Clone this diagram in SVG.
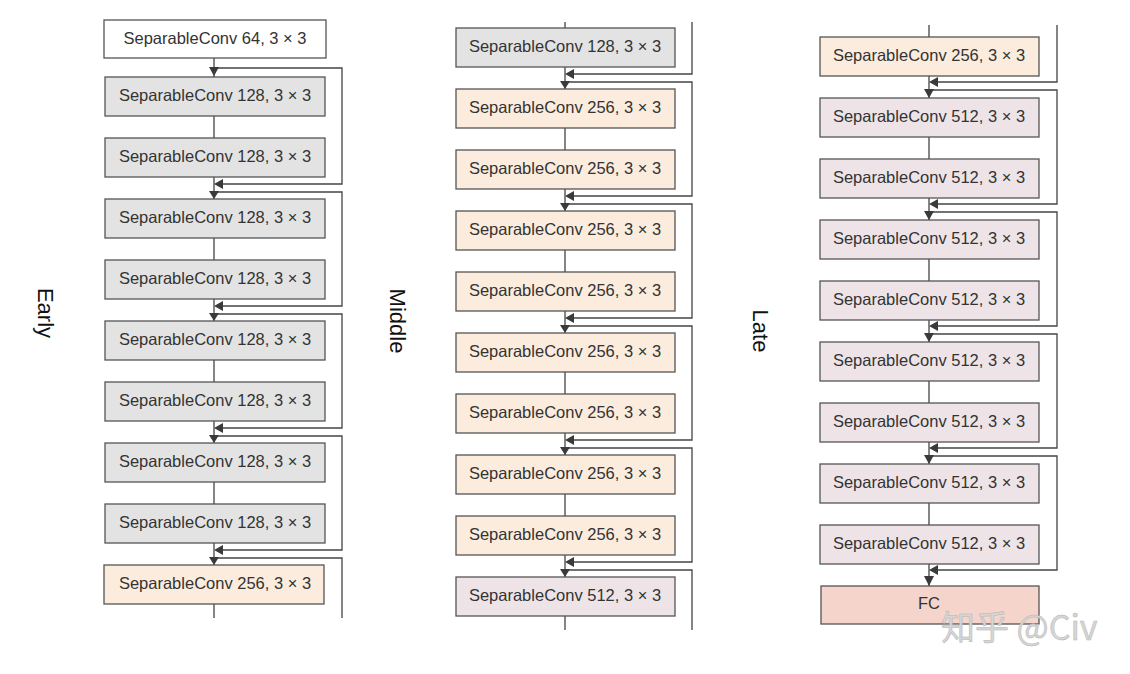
<svg xmlns="http://www.w3.org/2000/svg" width="1130" height="674" viewBox="0 0 1130 674">
<style>
.bx{stroke:#555;stroke-width:1.3}
.w{fill:#ffffff}
.g{fill:#e3e3e3}
.p{fill:#fcecdd}
.l{fill:#eee4e8}
.fc{fill:#f5d4cb}
.t{font-family:"Liberation Sans",Arial,sans-serif;font-size:16.5px;fill:#333;text-anchor:middle;dominant-baseline:central}
.lb{font-family:"Liberation Sans",Arial,sans-serif;font-size:22px;fill:#111;text-anchor:middle}
.ln{fill:none;stroke:#444;stroke-width:1.3}
.ah{fill:#3a3a3a}
.wm{font-family:"Noto Sans CJK SC",sans-serif;font-size:34px;fill:#d6d6d6;stroke:#b5b5b5;stroke-width:0.5}
</style>
<rect width="1130" height="674" fill="#fff"/>

<g id="connectors">
  <!-- Early -->
  <path class="ln" d="M214,58 V618"/>
  <path class="ln" d="M214,68 H342 V184 H222"/>
  <path class="ln" d="M214,192 H342 V306 H222"/>
  <path class="ln" d="M214,314 H342 V428 H222"/>
  <path class="ln" d="M214,436 H342 V550 H222"/>
  <path class="ln" d="M214,558 H342 V618"/>
  <g class="ah">
    <path d="M209,67 H219 L214,76 Z"/>
    <path d="M209,191 H219 L214,199 Z"/>
    <path d="M209,313 H219 L214,321 Z"/>
    <path d="M209,435 H219 L214,443 Z"/>
    <path d="M209,557 H219 L214,565 Z"/>
    <path d="M214,184 L223,179 V189 Z"/>
    <path d="M214,306 L223,301 V311 Z"/>
    <path d="M214,428 L223,423 V433 Z"/>
    <path d="M214,550 L223,545 V555 Z"/>
  </g>
  <!-- Middle -->
  <path class="ln" d="M565,22 V630"/>
  <path class="ln" d="M692,22 V74 H573"/>
  <path class="ln" d="M565,82 H692 V196 H573"/>
  <path class="ln" d="M565,204 H692 V318 H573"/>
  <path class="ln" d="M565,326 H692 V440 H573"/>
  <path class="ln" d="M565,448 H692 V562 H573"/>
  <path class="ln" d="M565,570 H692 V630"/>
  <g class="ah">
    <path d="M565,74 L574,69 V79 Z"/>
    <path d="M565,196 L574,191 V201 Z"/>
    <path d="M565,318 L574,313 V323 Z"/>
    <path d="M565,440 L574,435 V445 Z"/>
    <path d="M565,562 L574,557 V567 Z"/>
    <path d="M560,81 H570 L565,89 Z"/>
    <path d="M560,203 H570 L565,211 Z"/>
    <path d="M560,325 H570 L565,333 Z"/>
    <path d="M560,447 H570 L565,455 Z"/>
    <path d="M560,569 H570 L565,577 Z"/>
  </g>
  <!-- Late -->
  <path class="ln" d="M929,25 V586"/>
  <path class="ln" d="M1057,25 V82 H937"/>
  <path class="ln" d="M929,90 H1057 V204 H937"/>
  <path class="ln" d="M929,212 H1057 V326 H937"/>
  <path class="ln" d="M929,334 H1057 V448 H937"/>
  <path class="ln" d="M929,456 H1057 V570 H937"/>
  <g class="ah">
    <path d="M929,82 L938,77 V87 Z"/>
    <path d="M929,204 L938,199 V209 Z"/>
    <path d="M929,326 L938,321 V331 Z"/>
    <path d="M929,448 L938,443 V453 Z"/>
    <path d="M929,570 L938,565 V575 Z"/>
    <path d="M924,89 H934 L929,98 Z"/>
    <path d="M924,211 H934 L929,220 Z"/>
    <path d="M924,333 H934 L929,342 Z"/>
    <path d="M924,455 H934 L929,464 Z"/>
    <path d="M924,576 H934 L929,586 Z"/>
  </g>
</g>

<g id="early">
  <g id="e0"><rect class="bx w" x="104" y="20" width="222" height="38"/><text class="t" x="215" y="38">SeparableConv 64, 3 × 3</text></g>
  <g id="e1"><rect class="bx g" x="105" y="77" width="220" height="39"/><text class="t" x="215" y="95">SeparableConv 128, 3 × 3</text></g>
  <g id="e2"><rect class="bx g" x="105" y="138" width="220" height="39"/><text class="t" x="215" y="156">SeparableConv 128, 3 × 3</text></g>
  <g id="e3"><rect class="bx g" x="105" y="199" width="220" height="39"/><text class="t" x="215" y="217">SeparableConv 128, 3 × 3</text></g>
  <g id="e4"><rect class="bx g" x="105" y="260" width="220" height="39"/><text class="t" x="215" y="278">SeparableConv 128, 3 × 3</text></g>
  <g id="e5"><rect class="bx g" x="105" y="321" width="220" height="39"/><text class="t" x="215" y="339">SeparableConv 128, 3 × 3</text></g>
  <g id="e6"><rect class="bx g" x="105" y="382" width="220" height="39"/><text class="t" x="215" y="400">SeparableConv 128, 3 × 3</text></g>
  <g id="e7"><rect class="bx g" x="105" y="443" width="220" height="39"/><text class="t" x="215" y="461">SeparableConv 128, 3 × 3</text></g>
  <g id="e8"><rect class="bx g" x="105" y="504" width="220" height="39"/><text class="t" x="215" y="522">SeparableConv 128, 3 × 3</text></g>
  <g id="e9"><rect class="bx p" x="104" y="565" width="220" height="39"/><text class="t" x="215" y="583">SeparableConv 256, 3 × 3</text></g>
</g>

<g id="middle">
  <g id="m0"><rect class="bx g" x="456" y="28" width="219" height="39"/><text class="t" x="565" y="46">SeparableConv 128, 3 × 3</text></g>
  <g id="m1"><rect class="bx p" x="456" y="89" width="219" height="39"/><text class="t" x="565" y="107">SeparableConv 256, 3 × 3</text></g>
  <g id="m2"><rect class="bx p" x="456" y="150" width="219" height="39"/><text class="t" x="565" y="168">SeparableConv 256, 3 × 3</text></g>
  <g id="m3"><rect class="bx p" x="456" y="211" width="219" height="39"/><text class="t" x="565" y="229">SeparableConv 256, 3 × 3</text></g>
  <g id="m4"><rect class="bx p" x="456" y="272" width="219" height="39"/><text class="t" x="565" y="290">SeparableConv 256, 3 × 3</text></g>
  <g id="m5"><rect class="bx p" x="456" y="333" width="219" height="39"/><text class="t" x="565" y="351">SeparableConv 256, 3 × 3</text></g>
  <g id="m6"><rect class="bx p" x="456" y="394" width="219" height="39"/><text class="t" x="565" y="412">SeparableConv 256, 3 × 3</text></g>
  <g id="m7"><rect class="bx p" x="456" y="455" width="219" height="39"/><text class="t" x="565" y="473">SeparableConv 256, 3 × 3</text></g>
  <g id="m8"><rect class="bx p" x="456" y="516" width="219" height="39"/><text class="t" x="565" y="534">SeparableConv 256, 3 × 3</text></g>
  <g id="m9"><rect class="bx l" x="456" y="577" width="219" height="39"/><text class="t" x="565" y="595">SeparableConv 512, 3 × 3</text></g>
</g>

<g id="late">
  <g id="l0"><rect class="bx p" x="820" y="37" width="219" height="39"/><text class="t" x="929" y="55">SeparableConv 256, 3 × 3</text></g>
  <g id="l1"><rect class="bx l" x="820" y="98" width="219" height="39"/><text class="t" x="929" y="116">SeparableConv 512, 3 × 3</text></g>
  <g id="l2"><rect class="bx l" x="820" y="159" width="219" height="39"/><text class="t" x="929" y="177">SeparableConv 512, 3 × 3</text></g>
  <g id="l3"><rect class="bx l" x="820" y="220" width="219" height="39"/><text class="t" x="929" y="238">SeparableConv 512, 3 × 3</text></g>
  <g id="l4"><rect class="bx l" x="820" y="281" width="219" height="39"/><text class="t" x="929" y="299">SeparableConv 512, 3 × 3</text></g>
  <g id="l5"><rect class="bx l" x="820" y="342" width="219" height="39"/><text class="t" x="929" y="360">SeparableConv 512, 3 × 3</text></g>
  <g id="l6"><rect class="bx l" x="820" y="403" width="219" height="39"/><text class="t" x="929" y="421">SeparableConv 512, 3 × 3</text></g>
  <g id="l7"><rect class="bx l" x="820" y="464" width="219" height="39"/><text class="t" x="929" y="482">SeparableConv 512, 3 × 3</text></g>
  <g id="l8"><rect class="bx l" x="820" y="525" width="219" height="39"/><text class="t" x="929" y="543">SeparableConv 512, 3 × 3</text></g>
  <g id="fc"><rect class="bx fc" x="821" y="586" width="218" height="38"/><text class="t" x="929" y="603">FC</text></g>
</g>

<g id="labels">
  <text class="lb" transform="translate(38,313) rotate(90)">Early</text>
  <text class="lb" transform="translate(390,321) rotate(90)">Middle</text>
  <text class="lb" transform="translate(753,331) rotate(90)">Late</text>
</g>

<text class="wm" x="941" y="640">知乎 @Civ</text>
</svg>
